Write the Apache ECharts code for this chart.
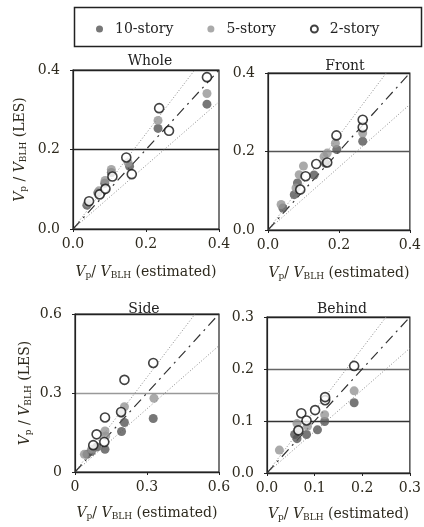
<!DOCTYPE html>
<html>
<head>
<meta charset="UTF-8">
<title>Vp/VBLH scatter</title>
<script src="https://cdn.jsdelivr.net/npm/echarts@6/dist/echarts.min.js"></script>
<style>
  body { margin: 0; background: #fff; }
  #main { width: 424px; height: 527px; }
</style>
</head>
<body>
<div id="main"></div>
<script>
// panel names and axis ranges
var panels = ['Whole', 'Front', 'Side', 'Behind'];
var axisMax = [0.4, 0.4, 0.6, 0.3];
var axisStep = [0.2, 0.2, 0.3, 0.1];
var storyNames = ['10-story', '5-story', '2-story'];

// [estimated, LES] pairs
var whole10 = [[0.038,0.060],[0.068,0.091],[0.087,0.115],[0.105,0.142],[0.155,0.158],[0.233,0.253],[0.367,0.314]];
var whole5  = [[0.041,0.065],[0.071,0.096],[0.088,0.122],[0.105,0.150],[0.151,0.167],[0.233,0.273],[0.367,0.341]];
var whole2  = [[0.044,0.070],[0.073,0.087],[0.089,0.101],[0.108,0.132],[0.146,0.180],[0.161,0.138],[0.236,0.304],[0.263,0.247],[0.367,0.382]];

var front10 = [[0.042,0.056],[0.074,0.090],[0.083,0.120],[0.130,0.140],[0.162,0.170],[0.194,0.205],[0.267,0.226]];
var front5  = [[0.037,0.065],[0.079,0.107],[0.088,0.141],[0.100,0.163],[0.158,0.187],[0.167,0.196],[0.190,0.221],[0.267,0.247]];
var front2  = [[0.091,0.103],[0.106,0.137],[0.136,0.168],[0.167,0.172],[0.193,0.241],[0.267,0.262],[0.267,0.281]];

var side10 = [[0.050,0.067],[0.068,0.078],[0.090,0.095],[0.125,0.086],[0.194,0.154],[0.206,0.188],[0.326,0.203]];
var side5  = [[0.039,0.067],[0.069,0.086],[0.128,0.137],[0.125,0.156],[0.194,0.222],[0.206,0.248],[0.329,0.280]];
var side2  = [[0.076,0.102],[0.090,0.143],[0.122,0.114],[0.125,0.207],[0.192,0.228],[0.206,0.350],[0.326,0.414]];

var behind10 = [[0.058,0.074],[0.063,0.066],[0.083,0.074],[0.106,0.083],[0.121,0.099],[0.183,0.135]];
var behind5  = [[0.026,0.044],[0.063,0.095],[0.065,0.083],[0.085,0.090],[0.121,0.112],[0.124,0.143],[0.183,0.158]];
var behind2  = [[0.066,0.082],[0.072,0.115],[0.083,0.101],[0.101,0.121],[0.122,0.140],[0.122,0.146],[0.183,0.206]];

var panelData = [
  [whole10, whole5, whole2],
  [front10, front5, front2],
  [side10, side5, side2],
  [behind10, behind5, behind2]
];

// reference lines: 1:1 and +/-20%
var upperRatio = 1.2;
var lowerRatio = 0.8;

var font = 'DejaVu Serif';
var ink = '#2e2a1e';
var grids = [
  {left: 73, top: 70, width: 146, height: 159},
  {left: 268, top: 73, width: 144, height: 157},
  {left: 75, top: 314, width: 144, height: 158},
  {left: 267, top: 317, width: 144, height: 156}
];
var titlePos = [[145, 49], [340, 54], [139, 297], [337, 297]];
// first/last entries sit on the frame, keep them dark
var splitColors = [
  ['#222', '#222', '#222'],
  ['#222', '#555', '#222'],
  ['#222', '#999', '#222'],
  ['#222', '#333', '#666', '#222']
];

var rich = {
  i: {fontFamily: font, fontStyle: 'italic', fontSize: 14, color: ink},
  s: {fontFamily: font, fontSize: 9, color: ink, verticalAlign: 'bottom', padding: [6, 0, 0, 0]},
  n: {fontFamily: font, fontSize: 14, color: ink}
};
var yName = '{i|V}{s|p}{n| / }{i|V}{s|BLH}{n| (LES)}';
var xName = '{i|V}{s|p}{n|/ }{i|V}{s|BLH}{n| (estimated)}';

function fmt(v, k) {
  if (k == 2) return v === 0 ? '0' : v.toFixed(1);
  return v.toFixed(1);
}

var option = {
  backgroundColor: '#fff',
  animation: false,
  title: [],
  grid: [],
  xAxis: [],
  yAxis: [],
  series: [],
  legend: {
    left: 91, top: 17,
    itemWidth: 7, itemHeight: 7, itemGap: 34,
    data: storyNames,
    textStyle: {fontFamily: font, fontSize: 14, color: '#222', padding: [0, 0, 0, 7]}
  },
  graphic: [{
    type: 'rect', left: 72, top: 5,
    shape: {width: 347, height: 39},
    style: {fill: 'none', stroke: '#222', lineWidth: 1.5}
  }]
};

var dotStyle = [
  {color: '#555'},
  {color: '#959595'},
  {color: '#fff', borderColor: '#111', borderWidth: 1.6}
];

for (var k = 0; k < 4; k++) {
  var m = axisMax[k];
  option.title.push({
    text: panels[k], left: titlePos[k][0], top: titlePos[k][1], textAlign: 'center',
    textStyle: {fontFamily: font, fontSize: 14, fontWeight: 'normal', color: '#222'}
  });
  option.grid.push({
    left: grids[k].left, top: grids[k].top, width: grids[k].width, height: grids[k].height,
    show: true, borderColor: '#222', borderWidth: 1.2, backgroundColor: 'transparent'
  });
  option.xAxis.push({
    gridIndex: k, type: 'value', min: 0, max: m, interval: axisStep[k],
    name: xName, nameLocation: 'middle', nameGap: k < 2 ? 36 : 34,
    nameTextStyle: {rich: rich},
    axisLine: {lineStyle: {color: '#222', width: 1.2}},
    axisTick: {show: true, inside: false, length: 3, lineStyle: {color: '#222'}},
    axisLabel: {fontFamily: font, fontSize: 14, color: ink, margin: 8,
      formatter: (function (kk) { return function (v) { return fmt(v, kk); }; })(k)},
    splitLine: {show: false}
  });
  option.yAxis.push({
    gridIndex: k, type: 'value', min: 0, max: m, interval: axisStep[k],
    name: (k == 0 || k == 2) ? yName : '', nameLocation: 'middle', nameRotate: 90,
    nameGap: k == 0 ? 45 : 42,
    nameTextStyle: {rich: rich},
    axisLine: {lineStyle: {color: '#222', width: 1.2}},
    axisTick: {show: true, inside: false, length: 3, lineStyle: {color: '#222'}},
    axisLabel: {fontFamily: font, fontSize: 14, color: ink, margin: 13,
      formatter: (function (kk) { return function (v) { return fmt(v, kk); }; })(k)},
    splitLine: {show: true, lineStyle: {color: splitColors[k], width: 1.3}}
  });

  // guide lines
  var guides = [
    {data: [[0, 0], [m / upperRatio, m]], color: '#8a8a8a', type: [1, 2], width: 1},
    {data: [[0, 0], [m, m * lowerRatio]], color: '#8a8a8a', type: [1, 2], width: 1},
    {data: [[0, 0], [m, m]], color: '#333', type: [10, 5, 2, 5], width: 1.2}
  ];
  guides.forEach(function (g) {
    option.series.push({
      type: 'line', xAxisIndex: k, yAxisIndex: k, data: g.data,
      symbol: 'none', silent: true, z: 1,
      lineStyle: {color: g.color, type: g.type, width: g.width}
    });
  });

  for (var s = 0; s < 3; s++) {
    option.series.push({
      name: storyNames[s], type: 'scatter', xAxisIndex: k, yAxisIndex: k,
      data: panelData[k][s], symbol: 'circle', symbolSize: 9, z: 3 + s,
      itemStyle: dotStyle[s]
    });
  }
}

var chart = echarts.init(document.getElementById('main'));
chart.setOption(option);
</script>
</body>
</html>
